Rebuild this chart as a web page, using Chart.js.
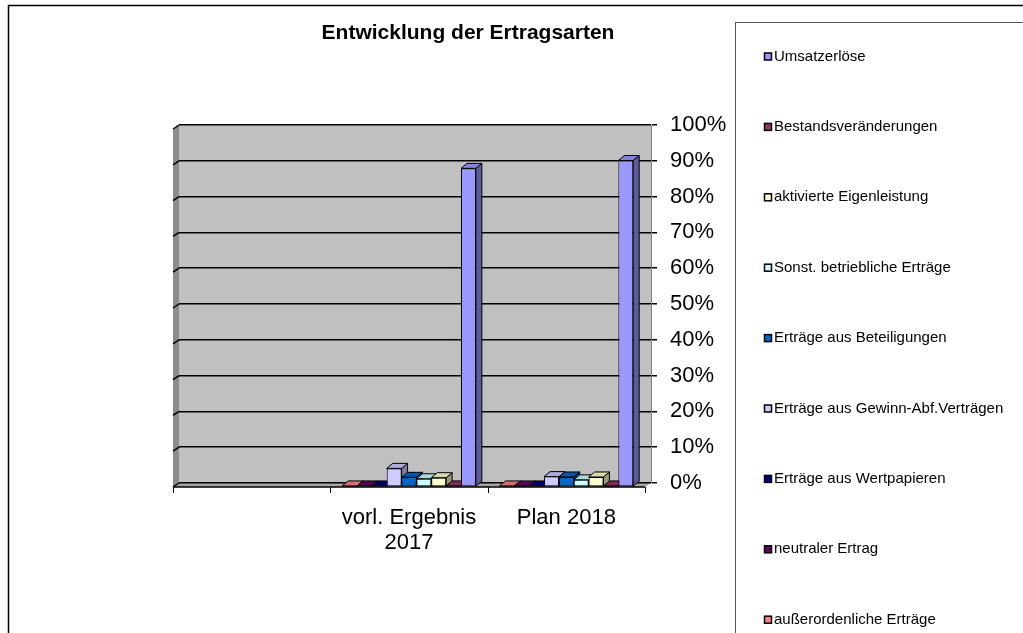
<!DOCTYPE html>
<html>
<head>
<meta charset="utf-8">
<script src="https://cdn.jsdelivr.net/npm/chart.js@4.4.0/dist/chart.umd.min.js"></script>
<style>
body{margin:0;background:#fff}
#wrap{position:relative;width:1023px;height:633px}
</style>
</head>
<body>
<div id="wrap"><canvas id="barChart"></canvas></div>
<script>
// categories (first one is empty in the original)
const categories = ['', ['vorl. Ergebnis', '2017'], 'Plan 2018'];

// series in bar order (left to right inside a group)
const seriesNames = [
    'außerordenliche Erträge',
    'neutraler Ertrag',
    'Erträge aus Wertpapieren',
    'Erträge aus Gewinn-Abf.Verträgen',
    'Erträge aus Beteiligungen',
    'Sonst. betriebliche Erträge',
    'aktivierte Eigenleistung',
    'Bestandsveränderungen',
    'Umsatzerlöse'
];
const seriesColors = ['#FF8080', '#660066', '#000080', '#CCCCFF', '#0066CC', '#CCFFFF', '#FFFFCC', '#993366', '#9999FF'];

// values in % per category
const ausserordentlich = [null, 0.3, 0.3];
const neutral = [null, 0.3, 0.3];
const wertpapiere = [null, 0.3, 0.3];
const gewinnAbf = [null, 5.2, 2.9];
const beteiligungen = [null, 2.7, 2.8];
const sonstige = [null, 2.3, 2.0];
const eigenleistung = [null, 2.6, 2.8];
const bestand = [null, 0.3, 0.3];
const umsatz = [null, 89, 91.2];
const seriesValues = [ausserordentlich, neutral, wertpapiere, gewinnAbf, beteiligungen, sonstige, eigenleistung, bestand, umsatz];

const yTickValues = [0, 10, 20, 30, 40, 50, 60, 70, 80, 90, 100];

const DX = 6, DY = 5; // depth of the 3D look
const FONT = "'Liberation Sans', Arial, sans-serif";

function shade(hex, f){
    const n = parseInt(hex.slice(1), 16);
    const r = Math.round(((n >> 16) & 255) * f);
    const g = Math.round(((n >> 8) & 255) * f);
    const b = Math.round((n & 255) * f);
    return 'rgb(' + r + ',' + g + ',' + b + ')';
}

const depthPlugin = {
    id: 'depth',
    beforeDraw: chart => {
        const { ctx, chartArea: a } = chart;
        ctx.save();
        ctx.fillStyle = '#C0C0C0';
        ctx.fillRect(a.left, a.top, a.width, a.height);
        // left wall
        ctx.fillStyle = '#8C8C8C';
        ctx.beginPath();
        ctx.moveTo(a.left, a.top);
        ctx.lineTo(a.left - DX, a.top + 4);
        ctx.lineTo(a.left - DX, a.bottom + 4);
        ctx.lineTo(a.left, a.bottom);
        ctx.closePath();
        ctx.fill();
        // floor
        ctx.fillStyle = '#A6A6A6';
        ctx.beginPath();
        ctx.moveTo(a.left, a.bottom);
        ctx.lineTo(a.right, a.bottom);
        ctx.lineTo(a.right - DX, a.bottom + 4);
        ctx.lineTo(a.left - DX, a.bottom + 4);
        ctx.closePath();
        ctx.fill();
        ctx.restore();
    },
    beforeDatasetsDraw: chart => {
        const { ctx, chartArea: a, scales: { y } } = chart;
        ctx.save();
        // grid lines bending onto the left wall
        ctx.strokeStyle = '#000';
        ctx.lineWidth = 1.5;
        yTickValues.forEach(v => {
            const py = y.getPixelForValue(v);
            ctx.beginPath();
            ctx.moveTo(a.left, py);
            ctx.lineTo(a.left - DX, py + 4);
            ctx.stroke();
        });
        // front edge of floor
        ctx.beginPath();
        ctx.moveTo(a.left - DX, a.bottom + 4);
        ctx.lineTo(a.right - DX, a.bottom + 4);
        ctx.stroke();

        // bars are drawn on the front plane
        ctx.translate(-DX, 4);
        ctx.lineWidth = 1;
        const bars = [];
        chart.data.datasets.forEach((ds, i) => {
            chart.getDatasetMeta(i).data.forEach((bar, j) => {
                if (ds.data[j] == null) return;
                bars.push({ bar, color: seriesColors[i] });
            });
        });
        // side faces first, then tops
        bars.forEach(({ bar, color }) => {
            const r = bar.x + bar.width / 2;
            ctx.fillStyle = shade(color, 0.6);
            ctx.beginPath();
            ctx.moveTo(r, bar.y);
            ctx.lineTo(r + DX, bar.y - DY);
            ctx.lineTo(r + DX, bar.base - DY);
            ctx.lineTo(r, bar.base);
            ctx.closePath();
            ctx.fill();
            ctx.stroke();
        });
        bars.forEach(({ bar, color }) => {
            const l = bar.x - bar.width / 2, r = bar.x + bar.width / 2;
            ctx.fillStyle = shade(color, 0.85);
            ctx.beginPath();
            ctx.moveTo(l, bar.y);
            ctx.lineTo(l + DX, bar.y - DY);
            ctx.lineTo(r + DX, bar.y - DY);
            ctx.lineTo(r, bar.y);
            ctx.closePath();
            ctx.fill();
            ctx.stroke();
        });
    },
    afterDatasetsDraw: chart => {
        chart.ctx.restore();
    },
    afterDraw: chart => {
        const { ctx, chartArea: a } = chart;
        ctx.save();
        // category tick marks on the front edge
        ctx.strokeStyle = '#000';
        ctx.lineWidth = 1;
        for (let i = 0; i <= categories.length; i++) {
            const px = Math.round(a.left + i * a.width / categories.length - DX) + 0.5;
            ctx.beginPath();
            ctx.moveTo(px, a.bottom + 4);
            ctx.lineTo(px, a.bottom + 10);
            ctx.stroke();
        }
        // outer frame
        ctx.lineWidth = 1.5;
        ctx.beginPath();
        ctx.moveTo(8.5, 633);
        ctx.lineTo(8.5, 5.5);
        ctx.lineTo(1023, 5.5);
        ctx.stroke();
        // legend box
        ctx.strokeStyle = '#555';
        ctx.lineWidth = 1;
        ctx.strokeRect(735.5, 22.5, 400, 700);
        // legend entries (reverse order like the original)
        ctx.font = '15px ' + FONT;
        ctx.textBaseline = 'middle';
        ctx.textAlign = 'left';
        for (let k = 0; k < seriesNames.length; k++) {
            const i = seriesNames.length - 1 - k;
            const cy = 56.5 + k * 70.4;
            ctx.fillStyle = seriesColors[i];
            ctx.fillRect(764.5, cy - 3.5, 7, 7);
            ctx.strokeStyle = '#000';
            ctx.lineWidth = 1.5;
            ctx.strokeRect(764.5, cy - 3.5, 7, 7);
            ctx.fillStyle = '#000';
            ctx.fillText(seriesNames[i], 774, cy);
        }
        ctx.restore();
    }
};

let barChart;
function initializeChart(){
    const data_barchart = {
        labels: categories,
        datasets: seriesNames.map((name, i) => ({
            label: name,
            data: seriesValues[i],
            backgroundColor: seriesColors[i],
            borderColor: '#000',
            borderWidth: 1,
            borderSkipped: false,
            clip: false
        }))
    };

    const options_barchart = {
        responsive: true,
        maintainAspectRatio: false,
        animation: false,
        categoryPercentage: 0.85,
        barPercentage: 1.0,
        layout: { padding: { left: 179, right: 266, top: 0, bottom: 60 } },
        plugins: {
            title: {
                display: true,
                text: 'Entwicklung der Ertragsarten',
                color: '#000',
                font: { family: FONT, size: 21, weight: 'bold' },
                padding: { top: 20.4, bottom: 79.4 }
            },
            legend: { display: false },
            tooltip: { enabled: false }
        },
        scales: {
            x: {
                grid: { display: false },
                border: { display: false },
                ticks: {
                    color: '#000',
                    font: { family: FONT, size: 22, lineHeight: 1.15 },
                    padding: 14,
                    labelOffset: -DX,
                    maxRotation: 0,
                    autoSkip: false
                },
                afterFit: s => { s.height = 90; }
            },
            y: {
                position: 'right',
                min: 0,
                max: 100,
                afterBuildTicks: s => { s.ticks = yTickValues.map(v => ({ value: v })); },
                ticks: {
                    color: '#000',
                    font: { family: FONT, size: 22 },
                    padding: 13,
                    callback: v => v + '%'
                },
                grid: { color: '#000', lineWidth: 1.5, tickLength: 6 },
                border: { color: '#808080', width: 1 },
                afterFit: s => { s.width = 106; }
            }
        }
    };

    barChart = new Chart(document.getElementById('barChart'), {
        type: 'bar',
        data: data_barchart,
        options: options_barchart,
        plugins: [depthPlugin]
    });
}

document.addEventListener("DOMContentLoaded", function () {
    initializeChart();
});
</script>
</body>
</html>
